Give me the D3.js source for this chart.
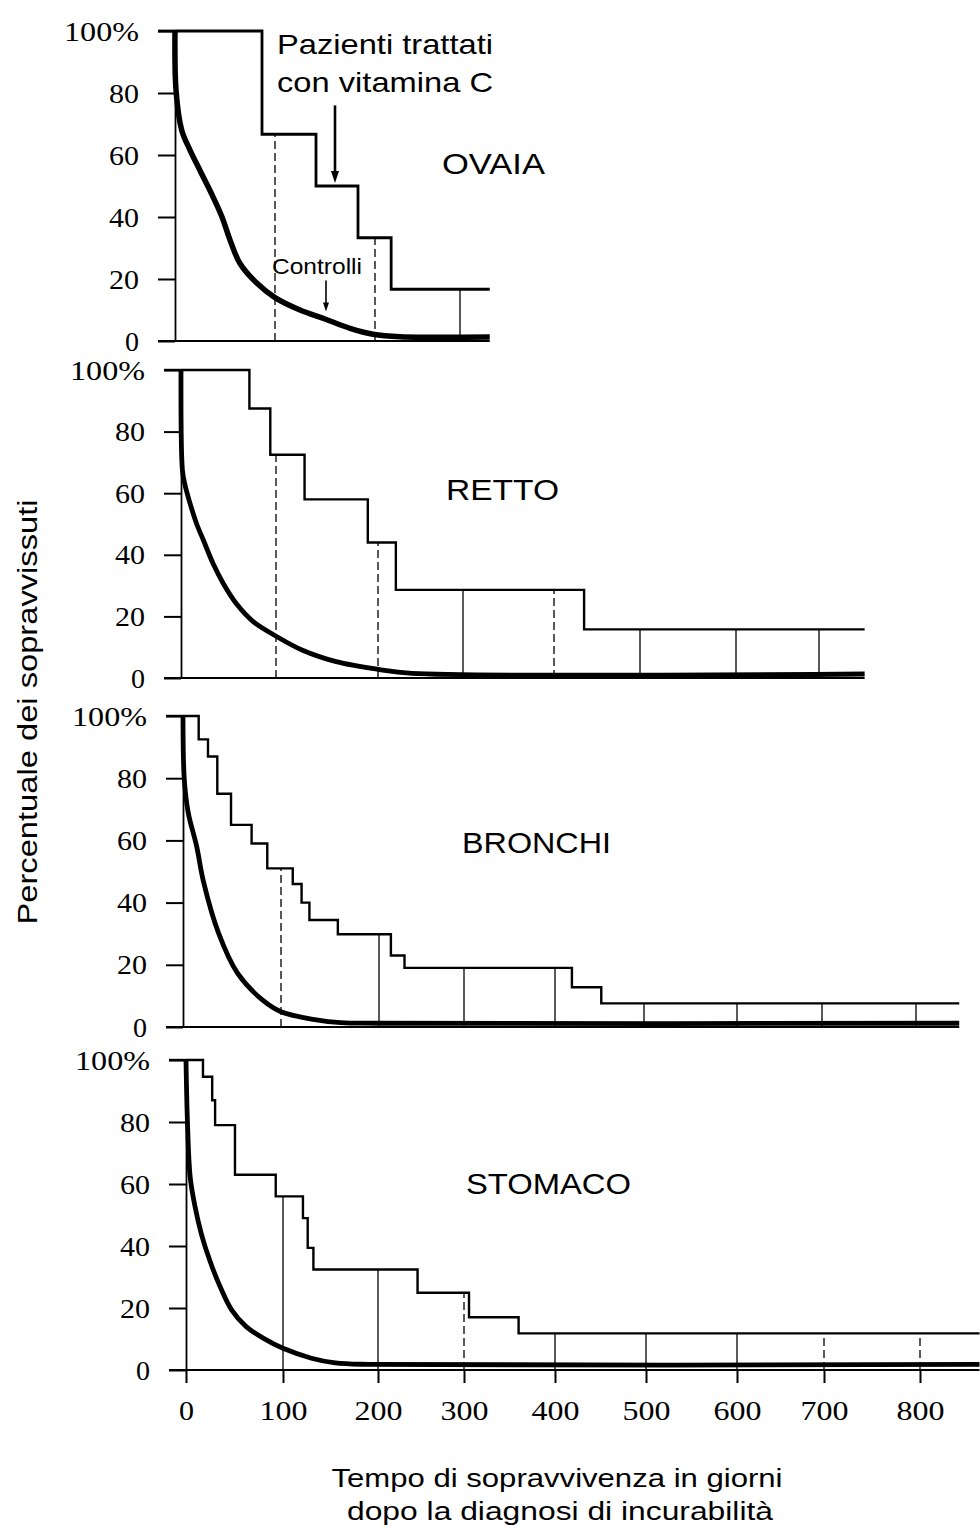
<!DOCTYPE html>
<html><head><meta charset="utf-8">
<script src="https://cdn.jsdelivr.net/npm/d3@7"></script>
<style>
html,body{margin:0;padding:0;background:#fff;}
svg{display:block;}
</style></head>
<body>
<svg id="chart" width="980" height="1535"></svg>
<script>
// ---------------- DATA ----------------
const panelNames = ["OVAIA", "RETTO", "BRONCHI", "STOMACO"];
const yTickValues = [0, 20, 40, 60, 80, 100];
const yTickLabels = ["0", "20", "40", "60", "80", "100%"];
const xTickValues = [0, 100, 200, 300, 400, 500, 600, 700, 800];
const xTickLabels = ["0", "100", "200", "300", "400", "500", "600", "700", "800"];

// Treated with vitamin C: day each level starts, level (%), last day drawn
const ovaiaTreatedDays = [0, 87, 141, 183, 219];
const ovaiaTreatedPct  = [100, 66.7, 50, 33.3, 16.7];
const ovaiaEndDay = 335;
const rettoTreatedDays = [0, 72, 94, 128, 190, 221, 435];
const rettoTreatedPct  = [100, 87.5, 72.5, 58, 44, 28.6, 15.8];
const rettoEndDay = 755;
const bronchiTreatedDays = [0, 16, 25.5, 35, 49, 70, 86, 112, 121, 129, 158, 214, 230, 419, 452];
const bronchiTreatedPct  = [100, 92.5, 87, 75, 65, 59, 51, 46, 40, 34.4, 29.8, 23, 19, 12.8, 7.6];
const bronchiEndDay = 846;
const stomacoTreatedDays = [0, 17.5, 27, 30, 50.5, 92.5, 121, 126, 132, 246, 305.5, 360];
const stomacoTreatedPct  = [100, 94.6, 87, 79, 63, 56, 49, 39.4, 32.4, 24.9, 17, 11.8];
const stomacoEndDay = 862;

// Controls: smooth survival curves
const ovaiaControlDays = [0, 1, 6.7, 15, 25, 38, 47, 55, 65, 82, 100, 125, 150, 175, 198, 230, 335];
const ovaiaControlPct  = [100, 81, 68, 61.6, 55, 46.5, 40, 32.6, 25, 18.6, 14, 10, 7.1, 4.1, 2.2, 1.4, 1.3];
const rettoControlDays = [0, 1.5, 4, 9.5, 16.5, 23.5, 34, 44.5, 58.6, 76, 101, 126, 159, 200, 240, 755];
const rettoControlPct  = [100, 67.5, 63, 56.7, 50, 44.8, 37, 30.7, 24, 18.3, 13.4, 9, 5.3, 2.8, 1.5, 1.3];
const bronchiControlDays = [0, 1.3, 5.4, 14, 20.7, 36.5, 55.6, 81, 100, 136, 161, 200, 846];
const bronchiControlPct  = [100, 79.7, 68.8, 58, 47, 30, 17.3, 8.7, 4.9, 2.3, 1.4, 1.2, 1.2];
const stomacoControlDays = [0, 1.5, 4.4, 9.5, 16, 24.9, 35, 47, 62, 80, 100, 130, 155, 190, 862];
const stomacoControlPct  = [100, 80, 62, 52.4, 43.7, 35, 27, 19.4, 14, 10.2, 7, 3.8, 2.3, 1.8, 1.8];

// Day grid lines drawn in each panel
const ovaiaGridDays   = [100, 200, 300];
const rettoGridDays   = [100, 200, 300, 400, 500, 600, 700];
const bronchiGridDays = [100, 200, 300, 400, 500, 600, 700, 800];
const stomacoGridDays = [100, 200, 300, 400, 500, 600, 700, 800];

// Annotation texts
const annotTreated = ["Pazienti trattati", "con vitamina C"];
const annotControl = "Controlli";
const yTitle = "Percentuale dei sopravvissuti";
const xTitle = ["Tempo di sopravvivenza in giorni", "dopo la diagnosi di incurabilità"];
// arrows in data space: day, from %, to %
const treatedArrow = {day: 160, from: 76, to: 51};
const controlArrow = {day: 151, from: 19.5, to: 9.5};

// ---------------- LAYOUT / STYLE ----------------
const layout = [
  {yTop: 31, yBot: 341, knotX: [175, 275, 375, 460], dashed: [1, 1, 0], tW: 2.8, cW: 5.5,
   label: {x: 442, y: 174, size: 29, len: 103}},
  {yTop: 370, yBot: 678, knotX: [181, 276, 378, 463, 554, 640, 736, 819], dashed: [1, 1, 0, 1, 0, 0, 0], tW: 2.4, cW: 4.8,
   label: {x: 446, y: 500, size: 30, len: 113}},
  {yTop: 716, yBot: 1027, knotX: [183, 281, 379, 464, 555, 644, 737, 822, 916], dashed: [1, 0, 0, 0, 0, 0, 0, 0], tW: 2.4, cW: 4.8,
   label: {x: 462, y: 853, size: 29, len: 149}},
  {yTop: 1060, yBot: 1370, knotX: [186, 283, 378, 464, 555, 646, 737, 824, 920], dashed: [0, 0, 1, 0, 0, 0, 1, 1], tW: 2.4, cW: 4.8,
   label: {x: 466, y: 1194, size: 29, len: 165}}
];

const datasets = [
  {tD: ovaiaTreatedDays, tP: ovaiaTreatedPct, end: ovaiaEndDay, cD: ovaiaControlDays, cP: ovaiaControlPct, grid: ovaiaGridDays},
  {tD: rettoTreatedDays, tP: rettoTreatedPct, end: rettoEndDay, cD: rettoControlDays, cP: rettoControlPct, grid: rettoGridDays},
  {tD: bronchiTreatedDays, tP: bronchiTreatedPct, end: bronchiEndDay, cD: bronchiControlDays, cP: bronchiControlPct, grid: bronchiGridDays},
  {tD: stomacoTreatedDays, tP: stomacoTreatedPct, end: stomacoEndDay, cD: stomacoControlDays, cP: stomacoControlPct, grid: stomacoGridDays}
];

const SANS = "'Liberation Sans', Arial, sans-serif";
const SERIF = "'Liberation Serif', 'Times New Roman', serif";

const svg = d3.select("#chart");
svg.append("rect").attr("width", 980).attr("height", 1535).attr("fill", "#fff");

const scales = [];

datasets.forEach((ds, i) => {
  const L = layout[i];
  const knotDays = xTickValues.slice(0, L.knotX.length);
  const x = d3.scaleLinear().domain(knotDays).range(L.knotX);
  const y = d3.scaleLinear().domain([0, 100]).range([L.yBot, L.yTop]);
  scales.push({x, y});
  const g = svg.append("g").attr("class", "panel-" + panelNames[i]);

  const levelAt = d => {
    let v = ds.tP[0];
    ds.tD.forEach((dd, k) => { if (dd <= d) v = ds.tP[k]; });
    return v;
  };

  // grid lines (from baseline up to the treated curve)
  g.selectAll("line.grid").data(ds.grid).enter().append("line")
    .attr("class", "grid")
    .attr("x1", d => x(d)).attr("x2", d => x(d))
    .attr("y1", y(0)).attr("y2", d => y(levelAt(d)))
    .attr("stroke", "#000")
    .attr("stroke-width", 1.3)
    .attr("stroke-dasharray", (d, k) => L.dashed[k] ? "8,4" : null);

  // baseline
  g.append("line")
    .attr("x1", x(0) - 17).attr("x2", x(ds.end))
    .attr("y1", y(0)).attr("y2", y(0))
    .attr("stroke", "#000").attr("stroke-width", 1.8);

  // y axis
  const yAxis = d3.axisLeft(y).tickValues(yTickValues)
    .tickFormat((d, k) => yTickLabels[k]).tickSize(17).tickSizeOuter(0).tickPadding(19);
  const ga = g.append("g").attr("transform", `translate(${x(0)},0)`).call(yAxis);
  ga.select(".domain").attr("stroke", "#000").attr("stroke-width", 1.8);
  ga.selectAll(".tick line").attr("stroke", "#000").attr("stroke-width", 2);
  ga.selectAll(".tick text")
    .attr("fill", "#000")
    .style("font-family", SERIF).style("font-size", "27px")
    .attr("dy", "0.34em")
    .attr("textLength", (d, k) => yTickLabels[k].length === 4 ? 75 : (yTickLabels[k].length === 2 ? 30 : 14))
    .attr("lengthAdjust", "spacingAndGlyphs");

  // control curve
  const cPts = ds.cD.map((d, k) => [d, ds.cP[k]]);
  g.append("path")
    .attr("d", d3.line().x(p => x(p[0])).y(p => y(p[1])).curve(d3.curveCatmullRom.alpha(0.5))(cPts))
    .attr("fill", "none").attr("stroke", "#000").attr("stroke-width", L.cW)
    .attr("stroke-linejoin", "round");

  // treated step curve
  const tPts = ds.tD.map((d, k) => [d, ds.tP[k]]);
  tPts.push([ds.end, ds.tP[ds.tP.length - 1]]);
  g.append("path")
    .attr("d", d3.line().x(p => x(p[0])).y(p => y(p[1])).curve(d3.curveStepAfter)(tPts))
    .attr("fill", "none").attr("stroke", "#000").attr("stroke-width", L.tW);
  // 100% line extends left to the tick
  g.append("line")
    .attr("x1", x(0) - 17).attr("x2", x(0))
    .attr("y1", y(100)).attr("y2", y(100))
    .attr("stroke", "#000").attr("stroke-width", L.tW);

  // panel label
  g.append("text")
    .attr("x", L.label.x).attr("y", L.label.y)
    .style("font-family", SANS).style("font-size", L.label.size + "px")
    .attr("textLength", L.label.len).attr("lengthAdjust", "spacingAndGlyphs")
    .text(panelNames[i]);
});

// ---------------- ANNOTATIONS (panel 1) ----------------
const s0 = scales[0];
const ann = svg.append("g");
ann.append("text").attr("x", 277).attr("y", 54)
  .style("font-family", SANS).style("font-size", "28px")
  .attr("textLength", 216).attr("lengthAdjust", "spacingAndGlyphs").text(annotTreated[0]);
ann.append("text").attr("x", 277).attr("y", 92)
  .style("font-family", SANS).style("font-size", "28px")
  .attr("textLength", 216).attr("lengthAdjust", "spacingAndGlyphs").text(annotTreated[1]);
ann.append("text").attr("x", 272).attr("y", 274)
  .style("font-family", SANS).style("font-size", "22px")
  .attr("textLength", 90).attr("lengthAdjust", "spacingAndGlyphs").text(annotControl);

function arrow(a, w, hw, hh) {
  const ax = s0.x(a.day), y1 = s0.y(a.from), y2 = s0.y(a.to);
  ann.append("line").attr("x1", ax).attr("x2", ax).attr("y1", y1).attr("y2", y2 - hh + 1)
    .attr("stroke", "#000").attr("stroke-width", w);
  ann.append("path")
    .attr("d", `M${ax - hw / 2},${y2 - hh} L${ax + hw / 2},${y2 - hh} L${ax},${y2} Z`)
    .attr("fill", "#000");
}
arrow(treatedArrow, 2.6, 8, 12);
arrow(controlArrow, 1.6, 6, 9);

// ---------------- BOTTOM AXIS ----------------
const s3 = scales[3];
const xAxis = d3.axisBottom(s3.x).tickValues(xTickValues)
  .tickFormat((d, k) => xTickLabels[k]).tickSize(13).tickSizeOuter(0).tickPadding(17);
const gx = svg.append("g").attr("transform", `translate(0,${s3.y(0)})`).call(xAxis);
gx.select(".domain").remove();
gx.selectAll(".tick line").attr("stroke", "#000").attr("stroke-width", 2);
gx.selectAll(".tick text")
  .attr("fill", "#000")
  .style("font-family", SERIF).style("font-size", "28px")
  .attr("textLength", (d, k) => xTickLabels[k].length === 1 ? 15 : 48)
  .attr("lengthAdjust", "spacingAndGlyphs");

// ---------------- TITLES ----------------
svg.append("text")
  .attr("transform", "translate(37,712) rotate(-90)")
  .attr("text-anchor", "middle")
  .style("font-family", SANS).style("font-size", "27px")
  .attr("textLength", 425).attr("lengthAdjust", "spacingAndGlyphs")
  .text(yTitle);
svg.append("text").attr("x", 557).attr("y", 1487).attr("text-anchor", "middle")
  .style("font-family", SANS).style("font-size", "25px")
  .attr("textLength", 451).attr("lengthAdjust", "spacingAndGlyphs").text(xTitle[0]);
svg.append("text").attr("x", 560).attr("y", 1520).attr("text-anchor", "middle")
  .style("font-family", SANS).style("font-size", "25px")
  .attr("textLength", 426).attr("lengthAdjust", "spacingAndGlyphs").text(xTitle[1]);
</script>
</body></html>
